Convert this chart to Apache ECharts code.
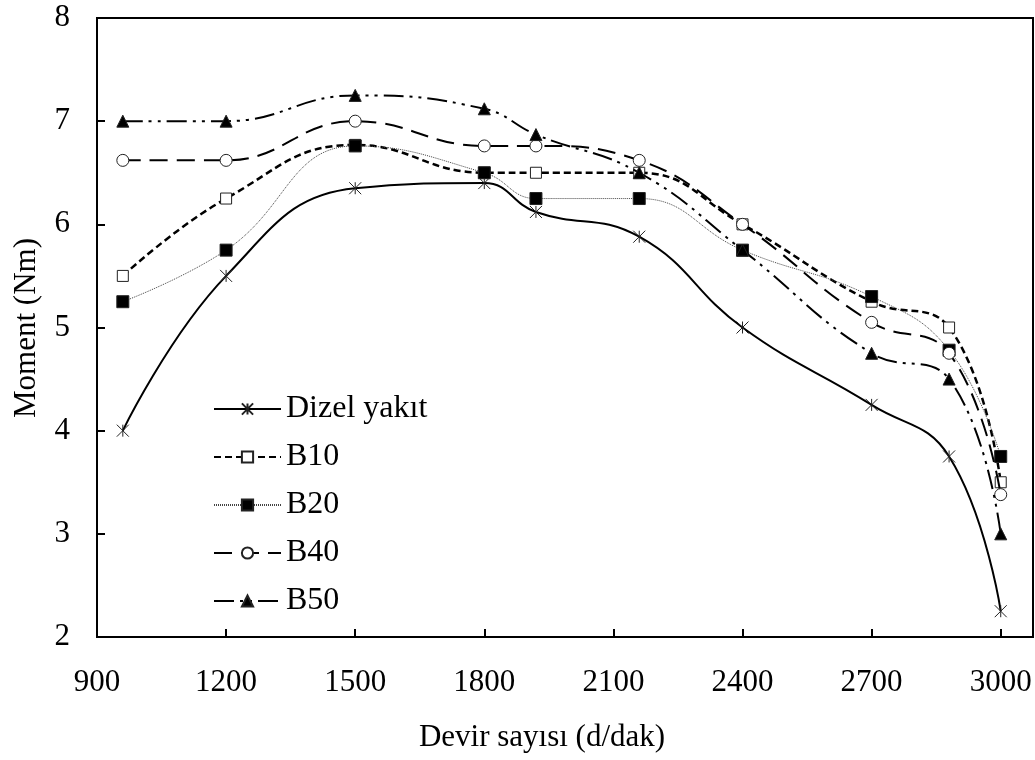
<!DOCTYPE html>
<html>
<head>
<meta charset="utf-8">
<script src="https://cdn.jsdelivr.net/npm/echarts@6/dist/echarts.min.js"></script>
<style>
html,body{margin:0;padding:0;background:#fff;}
#chart{width:1035px;height:760px;}
</style>
</head>
<body>
<div id="chart"></div>
<script>
// ---- data ----
var rpm = [960, 1200, 1500, 1800, 1920, 2160, 2400, 2700, 2880, 3000];
var seriesNames = ['Dizel yakıt', 'B10', 'B20', 'B40', 'B50'];
var dizel = [4.0, 5.5, 6.35, 6.4, 6.12, 5.88, 5.0, 4.25, 3.75, 2.25];
var b10 = [5.5, 6.25, 6.77, 6.5, 6.5, 6.5, 6.0, 5.25, 5.0, 3.5];
var b20 = [5.25, 5.75, 6.76, 6.5, 6.25, 6.25, 5.75, 5.3, 4.78, 3.75];
var b40 = [6.62, 6.62, 7.0, 6.76, 6.76, 6.62, 6.0, 5.05, 4.75, 3.38];
var b50 = [7.0, 7.0, 7.25, 7.12, 6.87, 6.5, 5.75, 4.75, 4.5, 3.0];
var xTicks = [900, 1200, 1500, 1800, 2100, 2400, 2700, 3000];
var yTicks = [2, 3, 4, 5, 6, 7, 8];
var xTitle = 'Devir sayısı (d/dak)';
var yTitle = 'Moment (Nm)';

function pairs(vals) { return rpm.map(function (x, i) { return [x, vals[i]]; }); }

var FONT = '"Liberation Serif", "Times New Roman", serif';
var chart = echarts.init(document.getElementById('chart'), null, {renderer: 'canvas'});

var asterisk = 'path://M0,0L10,10M10,0L0,10M5,0L5,10';

var styles = [
  {data: dizel, symbol: asterisk, size: 12, fill: 'transparent', line: {color: '#000', width: 2, type: 'solid'}},
  {data: b10, symbol: 'rect', size: 11, fill: '#fff', line: {color: '#000', width: 2.5, type: [7, 4]}},
  {data: b20, symbol: 'rect', size: 12, fill: '#000', line: {color: '#444', width: 1, type: [1, 1]}},
  {data: b40, symbol: 'circle', size: 12, fill: '#fff', line: {color: '#000', width: 2, type: [18, 9]}},
  {data: b50, symbol: 'triangle', size: 12, fill: '#000', line: {color: '#000', width: 2, type: [20, 6, 3, 6, 3, 6]}}
];

var series = styles.map(function (s, i) {
  return {
    name: seriesNames[i],
    type: 'line',
    smooth: 0.45,
    data: pairs(s.data),
    symbol: s.symbol,
    symbolSize: s.size,
    showAllSymbol: true,
    lineStyle: s.line,
    itemStyle: {color: s.fill, borderColor: '#222', borderWidth: 1},
    z: 2 + i
  };
});

var option = {
  animation: false,
  backgroundColor: '#fff',
  grid: {left: 97, right: 2, top: 18, bottom: 123, show: true, borderColor: '#000', borderWidth: 2, containLabel: false},
  xAxis: {
    type: 'value', min: xTicks[0], max: 3075, interval: xTicks[1] - xTicks[0],
    axisLine: {onZero: false, lineStyle: {color: '#000', width: 2}},
    axisTick: {inside: true, length: 8, lineStyle: {color: '#000', width: 2}},
    axisLabel: {showMaxLabel: false, margin: 30, color: '#000', fontFamily: FONT, fontSize: 31,
      formatter: function (v) { return String(v); }},
    splitLine: {show: false}
  },
  yAxis: {
    type: 'value', min: yTicks[0], max: yTicks[yTicks.length - 1], interval: yTicks[1] - yTicks[0],
    axisLine: {show: true, onZero: false, lineStyle: {color: '#000', width: 2}},
    axisTick: {show: true, inside: true, length: 8, lineStyle: {color: '#000', width: 2}},
    axisLabel: {margin: 27, color: '#000', fontFamily: FONT, fontSize: 31},
    splitLine: {show: false}
  },
  legend: {
    orient: 'vertical', left: 208, top: 388, itemWidth: 67, itemHeight: 14, itemGap: 16,
    data: seriesNames,
    textStyle: {color: '#000', fontFamily: FONT, fontSize: 32, lineHeight: 31}
  },
  graphic: [
    {type: 'text', x: 542, y: 738, style: {text: xTitle, fill: '#000', font: '31px ' + FONT, textAlign: 'center', textVerticalAlign: 'middle'}},
    {type: 'text', x: 27, y: 328, rotation: Math.PI / 2, style: {text: yTitle, fill: '#000', font: '31px ' + FONT, textAlign: 'center', textVerticalAlign: 'middle'}}
  ],
  series: series
};
chart.setOption(option);
</script>
</body>
</html>
